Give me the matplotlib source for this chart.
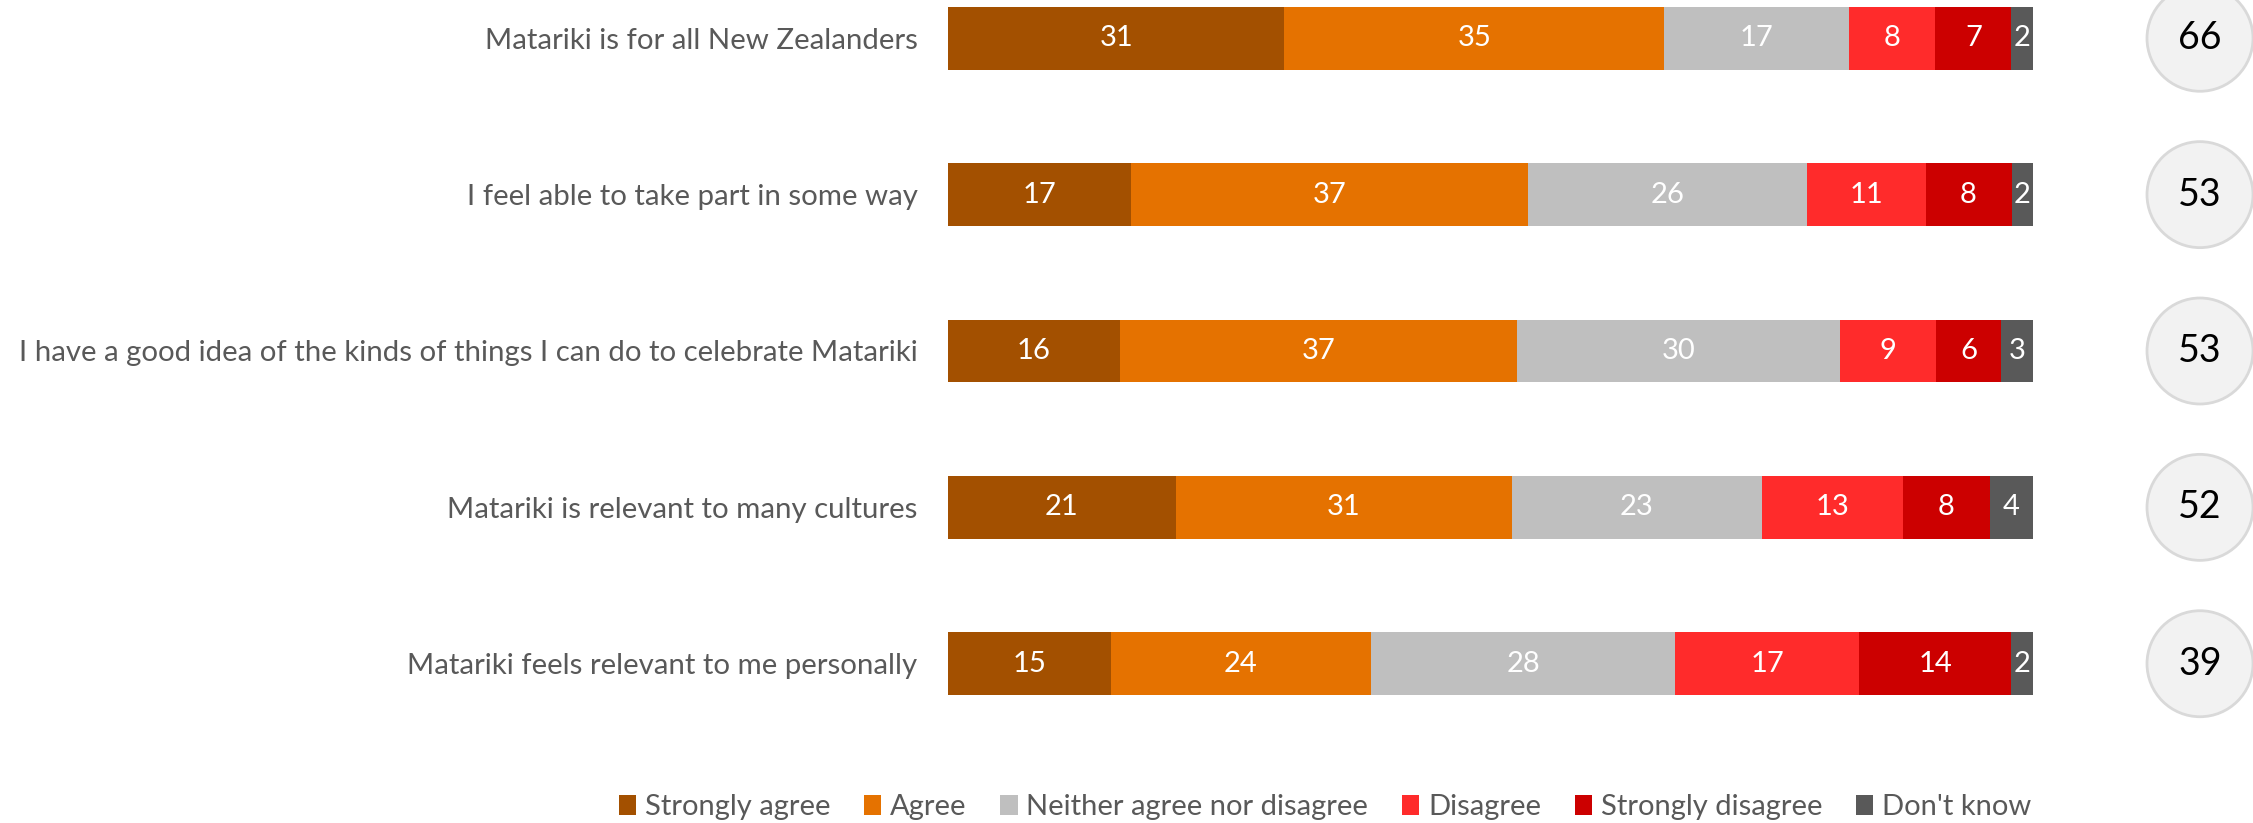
import matplotlib
matplotlib.use("Agg")
import matplotlib.pyplot as plt
from matplotlib.patches import Ellipse, Patch
from matplotlib import transforms

statements = [
    "Matariki is for all New Zealanders",
    "I feel able to take part in some way",
    "I have a good idea of the kinds of things I can do to celebrate Matariki",
    "Matariki is relevant to many cultures",
    "Matariki feels relevant to me personally",
]
responses = ["Strongly agree", "Agree", "Neither agree nor disagree",
             "Disagree", "Strongly disagree", "Don't know"]
strongly_agree = [31, 17, 16, 21, 15]
agree = [35, 37, 37, 31, 24]
neither = [17, 26, 30, 23, 28]
disagree = [8, 11, 9, 13, 17]
strongly_disagree = [7, 8, 6, 8, 14]
dont_know = [2, 2, 3, 4, 2]
net_agree = [66, 53, 53, 52, 39]

series = [strongly_agree, agree, neither, disagree, strongly_disagree, dont_know]
colors = ["#A35000", "#E57200", "#BFBFBF", "#FF2B2B", "#CC0000", "#595959"]

FONT = "Lato"
W, H = 2253, 823
fig = plt.figure(figsize=(W / 100, H / 100), dpi=100)
ax = fig.add_axes([948 / W, 1 - 695 / H, (2033 - 948) / W, (695 - 7) / H])

rows = list(range(len(statements)))
bar_h = 0.4
# 100% stacked: each segment is its share of the row total
totals = [sum(col) for col in zip(*series)]
left = [0.0] * len(statements)
for vals, col in zip(series, colors):
    widths = [v / t * 100 for v, t in zip(vals, totals)]
    ax.barh(rows, widths, left=left, height=bar_h, color=col, edgecolor="none")
    for r, v, w, l in zip(rows, vals, widths, left):
        ax.text(l + w / 2, r, str(v), ha="center", va="center",
                color="white", fontsize=21, family=FONT)
    left = [a + b for a, b in zip(left, widths)]

ax.set_xlim(0, 100)
ax.set_ylim(len(statements) - 1 + bar_h / 2, -bar_h / 2)
ax.set_xticks([])
ax.set_yticks(rows)
ax.set_yticklabels(statements, fontsize=21.2, family=FONT, color="#595959")
ax.tick_params(axis="y", length=0, pad=22)
for s in ax.spines.values():
    s.set_visible(False)

# Net agreement badges to the right of each bar
blend = transforms.blended_transform_factory(fig.transFigure, ax.transData)
row_px = (695 - 7) / (len(statements) - 1 + bar_h)
cx = 2200 / W
for r, n in zip(rows, net_agree):
    circ = Ellipse((cx, r), width=106 / W, height=106 / row_px,
                   transform=blend, facecolor="#F2F2F2", edgecolor="#D9D9D9",
                   linewidth=2, clip_on=False)
    fig.add_artist(circ)
    fig.text(cx, r, str(n), transform=blend, ha="center", va="center",
             fontsize=27, family=FONT, color="black")

handles = [Patch(facecolor=c, edgecolor="none") for c in colors]
fig.legend(handles, responses, loc="center", bbox_to_anchor=(1325 / W, 1 - 807 / H),
           ncol=6, frameon=False, handlelength=0.6, handleheight=0.7,
           handletextpad=0.3, columnspacing=1.15,
           prop={"family": FONT, "size": 21}, labelcolor="#595959")

fig.savefig("out.png", dpi=100)
